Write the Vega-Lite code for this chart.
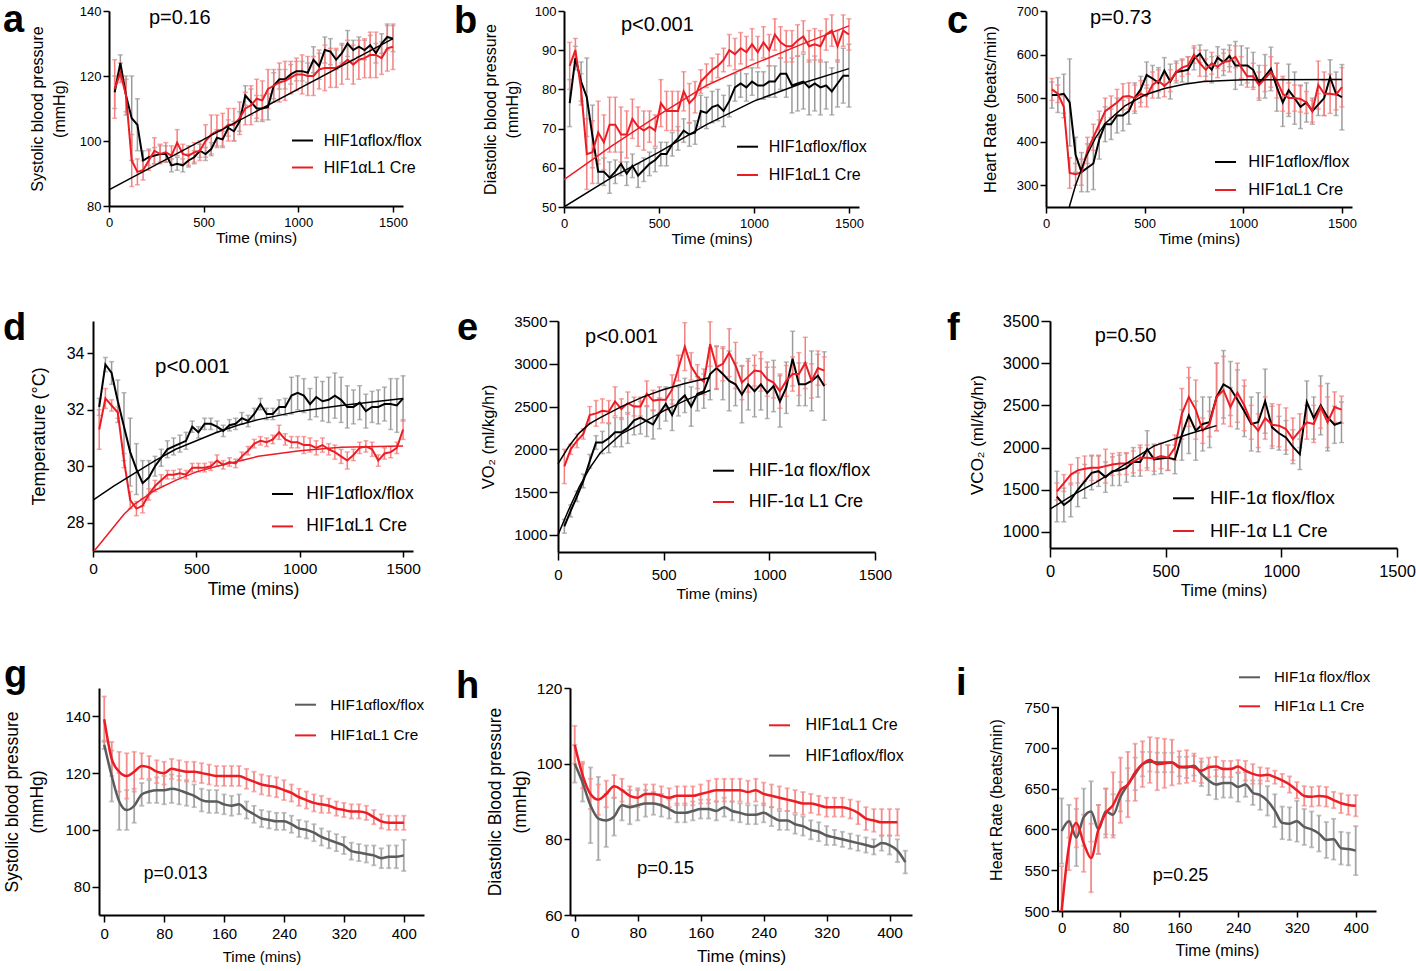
{
"$schema": "https://vega.github.io/schema/vega-lite/v6.json",
"padding": {"left": 0, "top": 2, "right": 2, "bottom": 2},
"background": "white",
"spacing": 62,
"resolve": {"scale": {"color": "independent"}, "legend": {"color": "independent"}},
"config": {
 "view": {"stroke": null},
 "font": "Liberation Sans",
 "axis": {"domainColor": "#000", "domainWidth": 2, "tickColor": "#000", "tickWidth": 1.5, "tickSize": 6, "labelColor": "#000", "titleColor": "#000", "labelFont": "Liberation Sans", "titleFont": "Liberation Sans", "titleFontWeight": "normal", "grid": false, "labelFlush": false, "labelOverlap": false, "titlePadding": 0, "format": "d"},
 "legend": {"labelFont": "Liberation Sans", "labelColor": "#000", "symbolType": "stroke", "symbolSize": 441, "symbolStrokeWidth": 2, "padding": 0, "orient": "none", "title": null},
 "text": {"font": "Liberation Sans", "color": "#000"}
},
"datasets": {
"a": [
{"g":"f","t":30,"m":115,"e":5},{"g":"f","t":60,"m":124,"e":2.5},{"g":"f","t":90,"m":114,"e":6},{"g":"f","t":120,"m":107,"e":13},{"g":"f","t":150,"m":105,"e":8},{"g":"f","t":180,"m":94,"e":3},{"g":"f","t":210,"m":95,"e":2.5},{"g":"f","t":240,"m":95.5,"e":2.5},{"g":"f","t":270,"m":96,"e":2.5},{"g":"f","t":300,"m":96,"e":2.5},{"g":"f","t":330,"m":92.5,"e":2},{"g":"f","t":360,"m":93,"e":2},{"g":"f","t":390,"m":92.5,"e":2},{"g":"f","t":420,"m":94,"e":2},{"g":"f","t":450,"m":95,"e":2},{"g":"f","t":480,"m":97,"e":2},{"g":"f","t":510,"m":96,"e":2},{"g":"f","t":540,"m":97.5,"e":2},{"g":"f","t":570,"m":101,"e":2.5},{"g":"f","t":600,"m":100.5,"e":2.5},{"g":"f","t":630,"m":104,"e":2.5},{"g":"f","t":660,"m":103,"e":3},{"g":"f","t":690,"m":106,"e":3},{"g":"f","t":720,"m":114,"e":3},{"g":"f","t":750,"m":112,"e":4},{"g":"f","t":780,"m":110,"e":4},{"g":"f","t":810,"m":110,"e":4},{"g":"f","t":840,"m":110.5,"e":4},{"g":"f","t":870,"m":117,"e":4},{"g":"f","t":900,"m":119,"e":3},{"g":"f","t":930,"m":119,"e":3},{"g":"f","t":960,"m":120.5,"e":3},{"g":"f","t":990,"m":121.5,"e":3},{"g":"f","t":1020,"m":121.5,"e":3},{"g":"f","t":1050,"m":121,"e":3},{"g":"f","t":1080,"m":125,"e":4},{"g":"f","t":1110,"m":123,"e":4},{"g":"f","t":1140,"m":128,"e":4},{"g":"f","t":1170,"m":127.5,"e":4},{"g":"f","t":1200,"m":125,"e":3},{"g":"f","t":1230,"m":127,"e":3},{"g":"f","t":1260,"m":130,"e":4},{"g":"f","t":1290,"m":128,"e":3},{"g":"f","t":1320,"m":129,"e":3},{"g":"f","t":1350,"m":128,"e":3},{"g":"f","t":1380,"m":129.5,"e":3},{"g":"f","t":1410,"m":127,"e":3},{"g":"f","t":1440,"m":130,"e":3},{"g":"f","t":1470,"m":132,"e":4},{"g":"f","t":1500,"m":131.5,"e":4},
{"g":"c","t":30,"m":116,"e":9},{"g":"c","t":60,"m":121,"e":3},{"g":"c","t":90,"m":114,"e":5},{"g":"c","t":120,"m":94,"e":8},{"g":"c","t":150,"m":90.5,"e":4},{"g":"c","t":180,"m":91,"e":3},{"g":"c","t":210,"m":94,"e":3},{"g":"c","t":240,"m":97,"e":4},{"g":"c","t":270,"m":96,"e":3},{"g":"c","t":300,"m":96.5,"e":3},{"g":"c","t":330,"m":95.5,"e":3},{"g":"c","t":360,"m":99.5,"e":4},{"g":"c","t":390,"m":96,"e":3},{"g":"c","t":420,"m":95.5,"e":3},{"g":"c","t":450,"m":96.5,"e":3},{"g":"c","t":480,"m":97,"e":3},{"g":"c","t":510,"m":100,"e":5},{"g":"c","t":540,"m":102,"e":6},{"g":"c","t":570,"m":103,"e":5},{"g":"c","t":600,"m":103.5,"e":5},{"g":"c","t":630,"m":105,"e":5},{"g":"c","t":660,"m":105,"e":5},{"g":"c","t":690,"m":107,"e":5},{"g":"c","t":720,"m":110,"e":5},{"g":"c","t":750,"m":111,"e":6},{"g":"c","t":780,"m":113,"e":6},{"g":"c","t":810,"m":112.5,"e":6},{"g":"c","t":840,"m":116,"e":6},{"g":"c","t":870,"m":117,"e":5},{"g":"c","t":900,"m":118,"e":6},{"g":"c","t":930,"m":118.5,"e":6},{"g":"c","t":960,"m":119.5,"e":5},{"g":"c","t":990,"m":120.5,"e":5},{"g":"c","t":1020,"m":120.5,"e":6},{"g":"c","t":1050,"m":120,"e":6},{"g":"c","t":1080,"m":120,"e":6},{"g":"c","t":1110,"m":122,"e":6},{"g":"c","t":1140,"m":122.5,"e":7},{"g":"c","t":1170,"m":122.5,"e":6},{"g":"c","t":1200,"m":122.5,"e":6},{"g":"c","t":1230,"m":123.5,"e":6},{"g":"c","t":1260,"m":125,"e":6},{"g":"c","t":1290,"m":123.5,"e":6},{"g":"c","t":1320,"m":125,"e":6},{"g":"c","t":1350,"m":125.5,"e":6},{"g":"c","t":1380,"m":126.5,"e":7},{"g":"c","t":1410,"m":126.5,"e":7},{"g":"c","t":1440,"m":125.5,"e":5},{"g":"c","t":1470,"m":128.5,"e":7},{"g":"c","t":1500,"m":129,"e":7}
],
"a_fit": [{"g":"f","t":0,"m":85},{"g":"f","t":1500,"m":131.5}],
"b": [
{"g":"f","t":30,"m":76.5,"e":6},{"g":"f","t":60,"m":88,"e":3},{"g":"f","t":90,"m":82,"e":5},{"g":"f","t":120,"m":78,"e":10},{"g":"f","t":150,"m":68,"e":8},{"g":"f","t":180,"m":59,"e":3},{"g":"f","t":210,"m":59,"e":3.5},{"g":"f","t":240,"m":57.5,"e":4},{"g":"f","t":270,"m":59,"e":3},{"g":"f","t":300,"m":61,"e":3},{"g":"f","t":330,"m":58.5,"e":3},{"g":"f","t":360,"m":60.5,"e":3},{"g":"f","t":390,"m":58,"e":3},{"g":"f","t":420,"m":59.5,"e":3},{"g":"f","t":450,"m":61,"e":3},{"g":"f","t":480,"m":62,"e":3},{"g":"f","t":510,"m":63.5,"e":3},{"g":"f","t":540,"m":63.5,"e":3},{"g":"f","t":570,"m":66,"e":3},{"g":"f","t":600,"m":67.5,"e":3},{"g":"f","t":630,"m":69.5,"e":3},{"g":"f","t":660,"m":68.5,"e":3},{"g":"f","t":690,"m":69,"e":3},{"g":"f","t":720,"m":74.5,"e":4},{"g":"f","t":750,"m":74,"e":4},{"g":"f","t":780,"m":75.5,"e":4},{"g":"f","t":810,"m":76,"e":4},{"g":"f","t":840,"m":74.5,"e":4},{"g":"f","t":870,"m":77,"e":4},{"g":"f","t":900,"m":80.5,"e":3.5},{"g":"f","t":930,"m":81.5,"e":3.5},{"g":"f","t":960,"m":80.5,"e":3.5},{"g":"f","t":990,"m":82,"e":3.5},{"g":"f","t":1020,"m":81,"e":3.5},{"g":"f","t":1050,"m":81,"e":3.5},{"g":"f","t":1080,"m":82,"e":4},{"g":"f","t":1110,"m":82,"e":4},{"g":"f","t":1140,"m":84,"e":4},{"g":"f","t":1170,"m":84,"e":6},{"g":"f","t":1200,"m":81,"e":7},{"g":"f","t":1230,"m":81.5,"e":7},{"g":"f","t":1260,"m":82,"e":7},{"g":"f","t":1290,"m":80.5,"e":7},{"g":"f","t":1320,"m":81.5,"e":7},{"g":"f","t":1350,"m":80.5,"e":7},{"g":"f","t":1380,"m":81,"e":6},{"g":"f","t":1410,"m":79.5,"e":6},{"g":"f","t":1440,"m":81.5,"e":6},{"g":"f","t":1470,"m":83.5,"e":7},{"g":"f","t":1500,"m":83.5,"e":8},
{"g":"c","t":30,"m":86,"e":6},{"g":"c","t":60,"m":90,"e":3},{"g":"c","t":90,"m":80,"e":4},{"g":"c","t":120,"m":63.5,"e":9},{"g":"c","t":150,"m":64,"e":8},{"g":"c","t":180,"m":69,"e":8},{"g":"c","t":210,"m":66.5,"e":7},{"g":"c","t":240,"m":71,"e":7},{"g":"c","t":270,"m":71,"e":7},{"g":"c","t":300,"m":68.5,"e":7},{"g":"c","t":330,"m":68.5,"e":6},{"g":"c","t":360,"m":72.5,"e":5},{"g":"c","t":390,"m":70.5,"e":5},{"g":"c","t":420,"m":69.5,"e":5},{"g":"c","t":450,"m":70.5,"e":4},{"g":"c","t":480,"m":69.5,"e":4},{"g":"c","t":510,"m":76.5,"e":6},{"g":"c","t":540,"m":74.5,"e":5},{"g":"c","t":570,"m":74.5,"e":5},{"g":"c","t":600,"m":74.5,"e":5},{"g":"c","t":630,"m":79.5,"e":5},{"g":"c","t":660,"m":76.5,"e":5},{"g":"c","t":690,"m":78,"e":4},{"g":"c","t":720,"m":82,"e":3},{"g":"c","t":750,"m":83.5,"e":3},{"g":"c","t":780,"m":85,"e":3},{"g":"c","t":810,"m":86,"e":3},{"g":"c","t":840,"m":87.5,"e":3},{"g":"c","t":870,"m":90,"e":4},{"g":"c","t":900,"m":89,"e":4},{"g":"c","t":930,"m":90.5,"e":4},{"g":"c","t":960,"m":89.5,"e":4},{"g":"c","t":990,"m":91.5,"e":4},{"g":"c","t":1020,"m":89.5,"e":4},{"g":"c","t":1050,"m":92,"e":4},{"g":"c","t":1080,"m":90,"e":4},{"g":"c","t":1110,"m":94,"e":4},{"g":"c","t":1140,"m":92,"e":4},{"g":"c","t":1170,"m":91,"e":4},{"g":"c","t":1200,"m":91,"e":4},{"g":"c","t":1230,"m":92.5,"e":4},{"g":"c","t":1260,"m":93.5,"e":4},{"g":"c","t":1290,"m":91,"e":4},{"g":"c","t":1320,"m":91.5,"e":4},{"g":"c","t":1350,"m":91,"e":4},{"g":"c","t":1380,"m":94,"e":4},{"g":"c","t":1410,"m":95,"e":4},{"g":"c","t":1440,"m":91,"e":4},{"g":"c","t":1470,"m":95,"e":4},{"g":"c","t":1500,"m":94,"e":4}
],
"b_fit": [{"g":"f","t":0,"m":50},{"g":"f","t":250,"m":57.5},{"g":"f","t":500,"m":64},{"g":"f","t":750,"m":71},{"g":"f","t":1000,"m":77},{"g":"f","t":1250,"m":81.5},{"g":"f","t":1500,"m":85.3},
{"g":"c","t":0,"m":57},{"g":"c","t":250,"m":65.5},{"g":"c","t":500,"m":73.5},{"g":"c","t":750,"m":81},{"g":"c","t":1000,"m":86.5},{"g":"c","t":1250,"m":91.5},{"g":"c","t":1500,"m":96.2}],
"c": [
{"g":"f","t":30,"m":507,"e":30},{"g":"f","t":60,"m":507,"e":40},{"g":"f","t":90,"m":510,"e":45},{"g":"f","t":120,"m":490,"e":100},{"g":"f","t":150,"m":370,"e":40},{"g":"f","t":180,"m":330,"e":45},{"g":"f","t":210,"m":340,"e":55},{"g":"f","t":240,"m":350,"e":60},{"g":"f","t":270,"m":405,"e":45},{"g":"f","t":300,"m":440,"e":40},{"g":"f","t":330,"m":440,"e":35},{"g":"f","t":360,"m":460,"e":40},{"g":"f","t":390,"m":460,"e":35},{"g":"f","t":420,"m":470,"e":30},{"g":"f","t":450,"m":500,"e":35},{"g":"f","t":480,"m":520,"e":30},{"g":"f","t":510,"m":553,"e":30},{"g":"f","t":540,"m":545,"e":30},{"g":"f","t":570,"m":535,"e":35},{"g":"f","t":600,"m":563,"e":30},{"g":"f","t":630,"m":538,"e":40},{"g":"f","t":660,"m":560,"e":25},{"g":"f","t":690,"m":562,"e":25},{"g":"f","t":720,"m":565,"e":30},{"g":"f","t":750,"m":590,"e":25},{"g":"f","t":780,"m":602,"e":20},{"g":"f","t":810,"m":580,"e":30},{"g":"f","t":840,"m":565,"e":30},{"g":"f","t":870,"m":593,"e":25},{"g":"f","t":900,"m":582,"e":30},{"g":"f","t":930,"m":597,"e":25},{"g":"f","t":960,"m":575,"e":55},{"g":"f","t":990,"m":575,"e":45},{"g":"f","t":1020,"m":575,"e":40},{"g":"f","t":1050,"m":565,"e":40},{"g":"f","t":1080,"m":535,"e":40},{"g":"f","t":1110,"m":550,"e":50},{"g":"f","t":1140,"m":567,"e":50},{"g":"f","t":1170,"m":525,"e":55},{"g":"f","t":1200,"m":490,"e":55},{"g":"f","t":1230,"m":518,"e":60},{"g":"f","t":1260,"m":500,"e":60},{"g":"f","t":1290,"m":480,"e":50},{"g":"f","t":1320,"m":490,"e":45},{"g":"f","t":1350,"m":470,"e":30},{"g":"f","t":1380,"m":485,"e":25},{"g":"f","t":1410,"m":500,"e":40},{"g":"f","t":1440,"m":548,"e":40},{"g":"f","t":1470,"m":510,"e":50},{"g":"f","t":1500,"m":502,"e":75},
{"g":"c","t":30,"m":520,"e":25},{"g":"c","t":60,"m":510,"e":20},{"g":"c","t":90,"m":480,"e":25},{"g":"c","t":120,"m":328,"e":35},{"g":"c","t":150,"m":325,"e":25},{"g":"c","t":180,"m":330,"e":30},{"g":"c","t":210,"m":380,"e":30},{"g":"c","t":240,"m":410,"e":30},{"g":"c","t":270,"m":440,"e":30},{"g":"c","t":300,"m":470,"e":30},{"g":"c","t":330,"m":480,"e":25},{"g":"c","t":360,"m":490,"e":30},{"g":"c","t":390,"m":503,"e":30},{"g":"c","t":420,"m":505,"e":30},{"g":"c","t":450,"m":500,"e":30},{"g":"c","t":480,"m":510,"e":30},{"g":"c","t":510,"m":505,"e":25},{"g":"c","t":540,"m":530,"e":30},{"g":"c","t":570,"m":540,"e":25},{"g":"c","t":600,"m":528,"e":25},{"g":"c","t":630,"m":540,"e":25},{"g":"c","t":660,"m":560,"e":20},{"g":"c","t":690,"m":570,"e":20},{"g":"c","t":720,"m":575,"e":20},{"g":"c","t":750,"m":600,"e":20},{"g":"c","t":780,"m":580,"e":30},{"g":"c","t":810,"m":565,"e":25},{"g":"c","t":840,"m":580,"e":25},{"g":"c","t":870,"m":572,"e":25},{"g":"c","t":900,"m":583,"e":20},{"g":"c","t":930,"m":585,"e":25},{"g":"c","t":960,"m":595,"e":25},{"g":"c","t":990,"m":570,"e":25},{"g":"c","t":1020,"m":550,"e":25},{"g":"c","t":1050,"m":550,"e":30},{"g":"c","t":1080,"m":530,"e":30},{"g":"c","t":1110,"m":545,"e":30},{"g":"c","t":1140,"m":560,"e":35},{"g":"c","t":1170,"m":540,"e":40},{"g":"c","t":1200,"m":510,"e":40},{"g":"c","t":1230,"m":500,"e":35},{"g":"c","t":1260,"m":500,"e":30},{"g":"c","t":1290,"m":498,"e":30},{"g":"c","t":1320,"m":490,"e":25},{"g":"c","t":1350,"m":470,"e":25},{"g":"c","t":1380,"m":530,"e":55},{"g":"c","t":1410,"m":510,"e":50},{"g":"c","t":1440,"m":510,"e":45},{"g":"c","t":1470,"m":508,"e":35},{"g":"c","t":1500,"m":525,"e":45}
],
"c_fit": [{"g":"f","t":118,"m":250},{"g":"f","t":150,"m":300},{"g":"f","t":200,"m":362},{"g":"f","t":250,"m":408},{"g":"f","t":300,"m":442},{"g":"f","t":400,"m":482},{"g":"f","t":500,"m":507},{"g":"f","t":600,"m":522},{"g":"f","t":700,"m":532},{"g":"f","t":800,"m":538},{"g":"f","t":1000,"m":542},{"g":"f","t":1500,"m":543}],
"d": [
{"g":"f","t":30,"m":32.1,"e":0.3},{"g":"f","t":60,"m":33.6,"e":0.25},{"g":"f","t":90,"m":33.3,"e":0.4},{"g":"f","t":120,"m":32.3,"e":0.75},{"g":"f","t":150,"m":31.4,"e":1.2},{"g":"f","t":180,"m":30.5,"e":1.2},{"g":"f","t":210,"m":29.9,"e":0.9},{"g":"f","t":240,"m":29.4,"e":0.8},{"g":"f","t":270,"m":29.6,"e":0.6},{"g":"f","t":300,"m":30.0,"e":0.35},{"g":"f","t":330,"m":30.3,"e":0.3},{"g":"f","t":360,"m":30.6,"e":0.3},{"g":"f","t":390,"m":30.7,"e":0.3},{"g":"f","t":420,"m":30.8,"e":0.3},{"g":"f","t":450,"m":30.9,"e":0.3},{"g":"f","t":480,"m":31.4,"e":0.2},{"g":"f","t":510,"m":31.2,"e":0.2},{"g":"f","t":540,"m":31.5,"e":0.2},{"g":"f","t":570,"m":31.5,"e":0.2},{"g":"f","t":600,"m":31.4,"e":0.2},{"g":"f","t":630,"m":31.25,"e":0.2},{"g":"f","t":660,"m":31.45,"e":0.2},{"g":"f","t":690,"m":31.5,"e":0.2},{"g":"f","t":720,"m":31.7,"e":0.2},{"g":"f","t":750,"m":31.6,"e":0.2},{"g":"f","t":780,"m":31.85,"e":0.2},{"g":"f","t":810,"m":32.2,"e":0.2},{"g":"f","t":840,"m":31.85,"e":0.2},{"g":"f","t":870,"m":31.85,"e":0.2},{"g":"f","t":900,"m":32.1,"e":0.25},{"g":"f","t":930,"m":32.1,"e":0.3},{"g":"f","t":960,"m":32.5,"e":0.65},{"g":"f","t":990,"m":32.6,"e":0.6},{"g":"f","t":1020,"m":32.5,"e":0.6},{"g":"f","t":1050,"m":32.2,"e":0.55},{"g":"f","t":1080,"m":32.45,"e":0.7},{"g":"f","t":1110,"m":32.3,"e":0.7},{"g":"f","t":1140,"m":32.35,"e":0.8},{"g":"f","t":1170,"m":32.5,"e":0.8},{"g":"f","t":1200,"m":32.35,"e":0.8},{"g":"f","t":1230,"m":32.1,"e":0.75},{"g":"f","t":1260,"m":32.1,"e":0.6},{"g":"f","t":1290,"m":32.25,"e":0.6},{"g":"f","t":1320,"m":31.95,"e":0.6},{"g":"f","t":1350,"m":32.1,"e":0.55},{"g":"f","t":1380,"m":32.1,"e":0.6},{"g":"f","t":1410,"m":32.2,"e":0.6},{"g":"f","t":1440,"m":32.2,"e":0.9},{"g":"f","t":1470,"m":32.15,"e":0.95},{"g":"f","t":1500,"m":32.4,"e":0.8},
{"g":"c","t":30,"m":31.3,"e":0.7},{"g":"c","t":60,"m":32.4,"e":0.35},{"g":"c","t":90,"m":32.15,"e":0.2},{"g":"c","t":120,"m":31.9,"e":0.2},{"g":"c","t":150,"m":30.2,"e":0.25},{"g":"c","t":180,"m":28.8,"e":0.3},{"g":"c","t":210,"m":28.5,"e":0.25},{"g":"c","t":240,"m":28.6,"e":0.25},{"g":"c","t":270,"m":29.0,"e":0.2},{"g":"c","t":300,"m":29.3,"e":0.2},{"g":"c","t":330,"m":29.5,"e":0.2},{"g":"c","t":360,"m":29.7,"e":0.15},{"g":"c","t":390,"m":29.7,"e":0.15},{"g":"c","t":420,"m":29.75,"e":0.15},{"g":"c","t":450,"m":29.7,"e":0.15},{"g":"c","t":480,"m":29.95,"e":0.15},{"g":"c","t":510,"m":29.95,"e":0.15},{"g":"c","t":540,"m":29.95,"e":0.15},{"g":"c","t":570,"m":30.0,"e":0.15},{"g":"c","t":600,"m":30.2,"e":0.2},{"g":"c","t":630,"m":30.05,"e":0.15},{"g":"c","t":660,"m":30.15,"e":0.15},{"g":"c","t":690,"m":30.1,"e":0.15},{"g":"c","t":720,"m":30.35,"e":0.15},{"g":"c","t":750,"m":30.55,"e":0.15},{"g":"c","t":780,"m":30.8,"e":0.15},{"g":"c","t":810,"m":30.9,"e":0.15},{"g":"c","t":840,"m":30.85,"e":0.15},{"g":"c","t":870,"m":30.95,"e":0.15},{"g":"c","t":900,"m":31.2,"e":0.25},{"g":"c","t":930,"m":30.95,"e":0.2},{"g":"c","t":960,"m":30.85,"e":0.2},{"g":"c","t":990,"m":30.85,"e":0.2},{"g":"c","t":1020,"m":30.75,"e":0.3},{"g":"c","t":1050,"m":30.75,"e":0.25},{"g":"c","t":1080,"m":30.65,"e":0.25},{"g":"c","t":1110,"m":30.75,"e":0.25},{"g":"c","t":1140,"m":30.6,"e":0.2},{"g":"c","t":1170,"m":30.5,"e":0.25},{"g":"c","t":1200,"m":30.35,"e":0.25},{"g":"c","t":1230,"m":30.2,"e":0.3},{"g":"c","t":1260,"m":30.4,"e":0.2},{"g":"c","t":1290,"m":30.65,"e":0.2},{"g":"c","t":1320,"m":30.7,"e":0.2},{"g":"c","t":1350,"m":30.6,"e":0.25},{"g":"c","t":1380,"m":30.2,"e":0.2},{"g":"c","t":1410,"m":30.45,"e":0.2},{"g":"c","t":1440,"m":30.5,"e":0.2},{"g":"c","t":1470,"m":30.65,"e":0.2},{"g":"c","t":1500,"m":31.3,"e":0.35}
],
"d_fit": [{"g":"f","t":0,"m":28.8},{"g":"f","t":100,"m":29.3},{"g":"f","t":200,"m":29.75},{"g":"f","t":300,"m":30.2},{"g":"f","t":400,"m":30.6},{"g":"f","t":500,"m":30.9},{"g":"f","t":600,"m":31.2},{"g":"f","t":700,"m":31.45},{"g":"f","t":800,"m":31.65},{"g":"f","t":1000,"m":31.95},{"g":"f","t":1200,"m":32.15},{"g":"f","t":1500,"m":32.4},
{"g":"c","t":0,"m":26.95},{"g":"c","t":50,"m":27.4},{"g":"c","t":100,"m":27.85},{"g":"c","t":150,"m":28.3},{"g":"c","t":200,"m":28.65},{"g":"c","t":300,"m":29.15},{"g":"c","t":400,"m":29.5},{"g":"c","t":500,"m":29.8},{"g":"c","t":600,"m":30.0},{"g":"c","t":800,"m":30.35},{"g":"c","t":1000,"m":30.55},{"g":"c","t":1200,"m":30.67},{"g":"c","t":1500,"m":30.72}],
"e": [
{"g":"f","t":30,"m":1100,"e":80},{"g":"f","t":60,"m":1280,"e":70},{"g":"f","t":90,"m":1450,"e":60},{"g":"f","t":120,"m":1630,"e":80},{"g":"f","t":150,"m":1860,"e":80},{"g":"f","t":180,"m":2080,"e":80},{"g":"f","t":210,"m":2080,"e":130},{"g":"f","t":240,"m":2130,"e":170},{"g":"f","t":270,"m":2200,"e":170},{"g":"f","t":300,"m":2200,"e":170},{"g":"f","t":330,"m":2250,"e":180},{"g":"f","t":360,"m":2340,"e":170},{"g":"f","t":390,"m":2370,"e":190},{"g":"f","t":420,"m":2330,"e":180},{"g":"f","t":450,"m":2290,"e":170},{"g":"f","t":480,"m":2420,"e":180},{"g":"f","t":510,"m":2530,"e":200},{"g":"f","t":540,"m":2400,"e":180},{"g":"f","t":570,"m":2560,"e":170},{"g":"f","t":600,"m":2630,"e":200},{"g":"f","t":630,"m":2500,"e":230},{"g":"f","t":660,"m":2650,"e":200},{"g":"f","t":690,"m":2680,"e":200},{"g":"f","t":720,"m":2880,"e":300},{"g":"f","t":750,"m":2950,"e":250},{"g":"f","t":780,"m":2880,"e":300},{"g":"f","t":810,"m":2800,"e":350},{"g":"f","t":840,"m":2760,"e":250},{"g":"f","t":870,"m":2640,"e":330},{"g":"f","t":900,"m":2760,"e":300},{"g":"f","t":930,"m":2680,"e":300},{"g":"f","t":960,"m":2760,"e":300},{"g":"f","t":990,"m":2660,"e":300},{"g":"f","t":1020,"m":2740,"e":300},{"g":"f","t":1050,"m":2560,"e":300},{"g":"f","t":1080,"m":2720,"e":300},{"g":"f","t":1110,"m":3060,"e":320},{"g":"f","t":1140,"m":2760,"e":250},{"g":"f","t":1170,"m":2760,"e":250},{"g":"f","t":1200,"m":2800,"e":350},{"g":"f","t":1230,"m":2860,"e":250},{"g":"f","t":1260,"m":2740,"e":400},
{"g":"c","t":30,"m":1800,"e":200},{"g":"c","t":60,"m":2000,"e":60},{"g":"c","t":90,"m":2100,"e":80},{"g":"c","t":120,"m":2180,"e":60},{"g":"c","t":150,"m":2400,"e":100},{"g":"c","t":180,"m":2420,"e":150},{"g":"c","t":210,"m":2450,"e":140},{"g":"c","t":240,"m":2440,"e":130},{"g":"c","t":270,"m":2560,"e":170},{"g":"c","t":300,"m":2470,"e":120},{"g":"c","t":330,"m":2540,"e":130},{"g":"c","t":360,"m":2500,"e":110},{"g":"c","t":390,"m":2500,"e":110},{"g":"c","t":420,"m":2650,"e":150},{"g":"c","t":450,"m":2570,"e":120},{"g":"c","t":480,"m":2580,"e":150},{"g":"c","t":510,"m":2580,"e":120},{"g":"c","t":540,"m":2700,"e":170},{"g":"c","t":570,"m":2950,"e":150},{"g":"c","t":600,"m":3200,"e":280},{"g":"c","t":630,"m":2970,"e":160},{"g":"c","t":660,"m":2850,"e":140},{"g":"c","t":690,"m":2790,"e":150},{"g":"c","t":720,"m":3230,"e":260},{"g":"c","t":750,"m":2960,"e":250},{"g":"c","t":780,"m":3000,"e":200},{"g":"c","t":810,"m":3130,"e":280},{"g":"c","t":840,"m":2980,"e":270},{"g":"c","t":870,"m":2780,"e":200},{"g":"c","t":900,"m":2850,"e":180},{"g":"c","t":930,"m":2920,"e":180},{"g":"c","t":960,"m":2910,"e":230},{"g":"c","t":990,"m":2820,"e":200},{"g":"c","t":1020,"m":2780,"e":180},{"g":"c","t":1050,"m":2680,"e":200},{"g":"c","t":1080,"m":2800,"e":180},{"g":"c","t":1110,"m":2880,"e":200},{"g":"c","t":1140,"m":2880,"e":250},{"g":"c","t":1170,"m":3010,"e":300},{"g":"c","t":1200,"m":2800,"e":200},{"g":"c","t":1230,"m":2950,"e":200},{"g":"c","t":1260,"m":2920,"e":160}
],
"e_fit": [{"g":"f","t":0,"m":1000},{"g":"f","t":50,"m":1290},{"g":"f","t":100,"m":1560},{"g":"f","t":150,"m":1780},{"g":"f","t":200,"m":1960},{"g":"f","t":300,"m":2180},{"g":"f","t":400,"m":2310},{"g":"f","t":500,"m":2450},{"g":"f","t":600,"m":2570},{"g":"f","t":720,"m":2690},
{"g":"c","t":0,"m":1830},{"g":"c","t":50,"m":2030},{"g":"c","t":100,"m":2190},{"g":"c","t":150,"m":2300},{"g":"c","t":200,"m":2370},{"g":"c","t":300,"m":2500},{"g":"c","t":400,"m":2610},{"g":"c","t":500,"m":2700},{"g":"c","t":600,"m":2770},{"g":"c","t":720,"m":2840}],
"f": [
{"g":"f","t":30,"m":1420,"e":300},{"g":"f","t":60,"m":1320,"e":200},{"g":"f","t":90,"m":1380,"e":200},{"g":"f","t":120,"m":1500,"e":200},{"g":"f","t":150,"m":1600,"e":200},{"g":"f","t":180,"m":1700,"e":200},{"g":"f","t":210,"m":1720,"e":180},{"g":"f","t":240,"m":1650,"e":180},{"g":"f","t":270,"m":1720,"e":170},{"g":"f","t":300,"m":1730,"e":180},{"g":"f","t":330,"m":1760,"e":170},{"g":"f","t":360,"m":1830,"e":170},{"g":"f","t":390,"m":1830,"e":170},{"g":"f","t":420,"m":1980,"e":220},{"g":"f","t":450,"m":1860,"e":180},{"g":"f","t":480,"m":1870,"e":180},{"g":"f","t":510,"m":1880,"e":150},{"g":"f","t":540,"m":1860,"e":170},{"g":"f","t":570,"m":2150,"e":300},{"g":"f","t":600,"m":2380,"e":450},{"g":"f","t":630,"m":2200,"e":350},{"g":"f","t":660,"m":2280,"e":320},{"g":"f","t":690,"m":2300,"e":300},{"g":"f","t":720,"m":2600,"e":400},{"g":"f","t":750,"m":2750,"e":400},{"g":"f","t":780,"m":2700,"e":320},{"g":"f","t":810,"m":2570,"e":350},{"g":"f","t":840,"m":2430,"e":300},{"g":"f","t":870,"m":2280,"e":320},{"g":"f","t":900,"m":2300,"e":350},{"g":"f","t":930,"m":2550,"e":380},{"g":"f","t":960,"m":2240,"e":250},{"g":"f","t":990,"m":2170,"e":200},{"g":"f","t":1020,"m":2120,"e":200},{"g":"f","t":1050,"m":2010,"e":200},{"g":"f","t":1080,"m":1920,"e":180},{"g":"f","t":1110,"m":2540,"e":250},{"g":"f","t":1140,"m":2350,"e":250},{"g":"f","t":1170,"m":2500,"e":350},{"g":"f","t":1200,"m":2360,"e":400},{"g":"f","t":1230,"m":2270,"e":220},{"g":"f","t":1260,"m":2300,"e":240},
{"g":"c","t":30,"m":1480,"e":100},{"g":"c","t":60,"m":1580,"e":100},{"g":"c","t":90,"m":1680,"e":120},{"g":"c","t":120,"m":1730,"e":150},{"g":"c","t":150,"m":1750,"e":150},{"g":"c","t":180,"m":1760,"e":150},{"g":"c","t":210,"m":1760,"e":150},{"g":"c","t":240,"m":1780,"e":200},{"g":"c","t":270,"m":1800,"e":130},{"g":"c","t":300,"m":1810,"e":130},{"g":"c","t":330,"m":1810,"e":130},{"g":"c","t":360,"m":1830,"e":130},{"g":"c","t":390,"m":1880,"e":150},{"g":"c","t":420,"m":1880,"e":150},{"g":"c","t":450,"m":1870,"e":150},{"g":"c","t":480,"m":1900,"e":150},{"g":"c","t":510,"m":1880,"e":150},{"g":"c","t":540,"m":2000,"e":150},{"g":"c","t":570,"m":2400,"e":300},{"g":"c","t":600,"m":2600,"e":350},{"g":"c","t":630,"m":2450,"e":350},{"g":"c","t":660,"m":2200,"e":150},{"g":"c","t":690,"m":2280,"e":150},{"g":"c","t":720,"m":2600,"e":400},{"g":"c","t":750,"m":2680,"e":400},{"g":"c","t":780,"m":2480,"e":230},{"g":"c","t":810,"m":2650,"e":350},{"g":"c","t":840,"m":2500,"e":300},{"g":"c","t":870,"m":2300,"e":200},{"g":"c","t":900,"m":2200,"e":200},{"g":"c","t":930,"m":2350,"e":250},{"g":"c","t":960,"m":2270,"e":250},{"g":"c","t":990,"m":2260,"e":250},{"g":"c","t":1020,"m":2220,"e":250},{"g":"c","t":1050,"m":2100,"e":250},{"g":"c","t":1080,"m":2200,"e":200},{"g":"c","t":1110,"m":2300,"e":200},{"g":"c","t":1140,"m":2280,"e":220},{"g":"c","t":1170,"m":2480,"e":250},{"g":"c","t":1200,"m":2300,"e":300},{"g":"c","t":1230,"m":2480,"e":180},{"g":"c","t":1260,"m":2450,"e":160}
],
"f_fit": [{"g":"f","t":0,"m":1270},{"g":"f","t":100,"m":1440},{"g":"f","t":200,"m":1590},{"g":"f","t":300,"m":1760},{"g":"f","t":450,"m":2020},{"g":"f","t":600,"m":2160},{"g":"f","t":720,"m":2260}],
"g": [
{"g":"f","t":0,"m":130,"e":1.5},{"g":"f","t":10,"m":119,"e":9},{"g":"f","t":20,"m":110,"e":10},{"g":"f","t":30,"m":107,"e":7},{"g":"f","t":40,"m":108.5,"e":6},{"g":"f","t":50,"m":112.5,"e":4},{"g":"f","t":60,"m":113.5,"e":4},{"g":"f","t":70,"m":114,"e":4.5},{"g":"f","t":80,"m":114,"e":5},{"g":"f","t":90,"m":114.5,"e":5},{"g":"f","t":100,"m":114,"e":5},{"g":"f","t":110,"m":113,"e":4.5},{"g":"f","t":120,"m":112,"e":4},{"g":"f","t":130,"m":110.5,"e":4},{"g":"f","t":140,"m":110,"e":4},{"g":"f","t":150,"m":110,"e":4},{"g":"f","t":160,"m":109,"e":3.5},{"g":"f","t":170,"m":108.5,"e":3.5},{"g":"f","t":180,"m":109,"e":3.5},{"g":"f","t":190,"m":107,"e":3},{"g":"f","t":200,"m":105.5,"e":3},{"g":"f","t":210,"m":104,"e":3},{"g":"f","t":220,"m":103.5,"e":3},{"g":"f","t":230,"m":103,"e":3},{"g":"f","t":240,"m":103,"e":3},{"g":"f","t":250,"m":102,"e":3},{"g":"f","t":260,"m":100.5,"e":3},{"g":"f","t":270,"m":100,"e":3},{"g":"f","t":280,"m":99,"e":3},{"g":"f","t":290,"m":97.5,"e":3},{"g":"f","t":300,"m":96.5,"e":3},{"g":"f","t":310,"m":95.5,"e":3},{"g":"f","t":320,"m":94.5,"e":3},{"g":"f","t":330,"m":92.5,"e":3},{"g":"f","t":340,"m":92,"e":3},{"g":"f","t":350,"m":91.5,"e":3},{"g":"f","t":360,"m":91,"e":3.5},{"g":"f","t":370,"m":90,"e":3.5},{"g":"f","t":380,"m":90.5,"e":4},{"g":"f","t":390,"m":90.5,"e":4},{"g":"f","t":400,"m":91,"e":5.5},
{"g":"c","t":0,"m":139,"e":8},{"g":"c","t":10,"m":125,"e":6},{"g":"c","t":20,"m":120.5,"e":7},{"g":"c","t":30,"m":119,"e":8},{"g":"c","t":40,"m":120.5,"e":7},{"g":"c","t":50,"m":122.5,"e":4.5},{"g":"c","t":60,"m":122,"e":4},{"g":"c","t":70,"m":120.5,"e":4},{"g":"c","t":80,"m":120,"e":4},{"g":"c","t":90,"m":121.5,"e":3.5},{"g":"c","t":100,"m":121,"e":3.5},{"g":"c","t":110,"m":120.5,"e":3.5},{"g":"c","t":120,"m":120.5,"e":3.5},{"g":"c","t":130,"m":120,"e":3.5},{"g":"c","t":140,"m":119.5,"e":3.5},{"g":"c","t":150,"m":119,"e":3.5},{"g":"c","t":160,"m":119,"e":3.5},{"g":"c","t":170,"m":119,"e":3.5},{"g":"c","t":180,"m":119,"e":3.5},{"g":"c","t":190,"m":118,"e":3.5},{"g":"c","t":200,"m":117,"e":3.5},{"g":"c","t":210,"m":116,"e":3.5},{"g":"c","t":220,"m":115.5,"e":3.5},{"g":"c","t":230,"m":115,"e":3.5},{"g":"c","t":240,"m":114,"e":3.5},{"g":"c","t":250,"m":113,"e":3},{"g":"c","t":260,"m":111.5,"e":3},{"g":"c","t":270,"m":110.5,"e":3},{"g":"c","t":280,"m":109.5,"e":3},{"g":"c","t":290,"m":109,"e":3},{"g":"c","t":300,"m":108.5,"e":2.5},{"g":"c","t":310,"m":107.5,"e":2.5},{"g":"c","t":320,"m":107,"e":2.5},{"g":"c","t":330,"m":106.5,"e":2.5},{"g":"c","t":340,"m":106.5,"e":2.5},{"g":"c","t":350,"m":106,"e":2.5},{"g":"c","t":360,"m":104.5,"e":2.5},{"g":"c","t":370,"m":103,"e":2.5},{"g":"c","t":380,"m":102.5,"e":2.5},{"g":"c","t":390,"m":102.5,"e":2.5},{"g":"c","t":400,"m":102.5,"e":2.5}
],
"h": [
{"g":"c","t":0,"m":105,"e":5},{"g":"c","t":10,"m":97,"e":3.5},{"g":"c","t":20,"m":92,"e":4},{"g":"c","t":30,"m":90.5,"e":4},{"g":"c","t":40,"m":92,"e":3.5},{"g":"c","t":50,"m":94,"e":3},{"g":"c","t":60,"m":93,"e":3},{"g":"c","t":70,"m":91.5,"e":2.5},{"g":"c","t":80,"m":91,"e":2.5},{"g":"c","t":90,"m":92,"e":2.5},{"g":"c","t":100,"m":92,"e":2.5},{"g":"c","t":110,"m":91.5,"e":2.5},{"g":"c","t":120,"m":91,"e":2.5},{"g":"c","t":130,"m":91.5,"e":2.5},{"g":"c","t":140,"m":91.5,"e":2.5},{"g":"c","t":150,"m":91.5,"e":2.5},{"g":"c","t":160,"m":92,"e":2.5},{"g":"c","t":170,"m":92.5,"e":3},{"g":"c","t":180,"m":93,"e":3},{"g":"c","t":190,"m":93,"e":3},{"g":"c","t":200,"m":93,"e":3},{"g":"c","t":210,"m":93,"e":3},{"g":"c","t":220,"m":92.5,"e":3},{"g":"c","t":230,"m":93,"e":3},{"g":"c","t":240,"m":92,"e":3},{"g":"c","t":250,"m":91.5,"e":3},{"g":"c","t":260,"m":91,"e":3},{"g":"c","t":270,"m":90.5,"e":3},{"g":"c","t":280,"m":90,"e":3},{"g":"c","t":290,"m":89.5,"e":3},{"g":"c","t":300,"m":89.5,"e":2.5},{"g":"c","t":310,"m":89,"e":2.5},{"g":"c","t":320,"m":88.5,"e":2.5},{"g":"c","t":330,"m":88.5,"e":2.5},{"g":"c","t":340,"m":88.5,"e":2.5},{"g":"c","t":350,"m":88,"e":2.5},{"g":"c","t":360,"m":87,"e":3},{"g":"c","t":370,"m":85.5,"e":3},{"g":"c","t":380,"m":85,"e":3},{"g":"c","t":390,"m":84.5,"e":3.5},{"g":"c","t":400,"m":84.5,"e":3.5},{"g":"c","t":410,"m":84.5,"e":3.5},
{"g":"f","t":0,"m":100,"e":5},{"g":"f","t":10,"m":95,"e":5},{"g":"f","t":20,"m":89,"e":10},{"g":"f","t":30,"m":85.5,"e":11},{"g":"f","t":40,"m":85,"e":7},{"g":"f","t":50,"m":86,"e":5},{"g":"f","t":60,"m":89,"e":4},{"g":"f","t":70,"m":88.5,"e":4.5},{"g":"f","t":80,"m":89,"e":4},{"g":"f","t":90,"m":89.5,"e":3.5},{"g":"f","t":100,"m":89.5,"e":3},{"g":"f","t":110,"m":89,"e":3},{"g":"f","t":120,"m":88,"e":2.5},{"g":"f","t":130,"m":87,"e":2.5},{"g":"f","t":140,"m":87,"e":2.5},{"g":"f","t":150,"m":87.5,"e":2.5},{"g":"f","t":160,"m":88,"e":2.5},{"g":"f","t":170,"m":88,"e":2.5},{"g":"f","t":180,"m":87.5,"e":2.5},{"g":"f","t":190,"m":88.5,"e":2.5},{"g":"f","t":200,"m":87.5,"e":2.5},{"g":"f","t":210,"m":87,"e":2.5},{"g":"f","t":220,"m":86.5,"e":2.5},{"g":"f","t":230,"m":86.5,"e":2.5},{"g":"f","t":240,"m":87,"e":2.5},{"g":"f","t":250,"m":86,"e":2.5},{"g":"f","t":260,"m":85,"e":2.5},{"g":"f","t":270,"m":85,"e":2.5},{"g":"f","t":280,"m":84,"e":2.5},{"g":"f","t":290,"m":83.5,"e":2.5},{"g":"f","t":300,"m":82.5,"e":2.5},{"g":"f","t":310,"m":82,"e":2.5},{"g":"f","t":320,"m":81,"e":2.5},{"g":"f","t":330,"m":80.5,"e":2},{"g":"f","t":340,"m":80,"e":2},{"g":"f","t":350,"m":79.5,"e":2},{"g":"f","t":360,"m":79,"e":2},{"g":"f","t":370,"m":78.5,"e":2},{"g":"f","t":380,"m":78,"e":2},{"g":"f","t":390,"m":79,"e":2},{"g":"f","t":400,"m":78.5,"e":2.5},{"g":"f","t":410,"m":77,"e":3},{"g":"f","t":420,"m":74,"e":3}
],
"i": [
{"g":"f","t":0,"m":598,"e":40},{"g":"f","t":10,"m":610,"e":20},{"g":"f","t":20,"m":590,"e":35},{"g":"f","t":30,"m":615,"e":35},{"g":"f","t":40,"m":622,"e":37},{"g":"f","t":50,"m":600,"e":30},{"g":"f","t":60,"m":622,"e":28},{"g":"f","t":70,"m":618,"e":25},{"g":"f","t":80,"m":640,"e":18},{"g":"f","t":90,"m":655,"e":20},{"g":"f","t":100,"m":668,"e":20},{"g":"f","t":110,"m":680,"e":15},{"g":"f","t":120,"m":683,"e":12},{"g":"f","t":130,"m":682,"e":12},{"g":"f","t":140,"m":682,"e":12},{"g":"f","t":150,"m":682,"e":12},{"g":"f","t":160,"m":677,"e":12},{"g":"f","t":170,"m":676,"e":13},{"g":"f","t":180,"m":678,"e":12},{"g":"f","t":190,"m":668,"e":15},{"g":"f","t":200,"m":660,"e":18},{"g":"f","t":210,"m":655,"e":18},{"g":"f","t":220,"m":657,"e":18},{"g":"f","t":230,"m":657,"e":18},{"g":"f","t":240,"m":652,"e":18},{"g":"f","t":250,"m":655,"e":15},{"g":"f","t":260,"m":645,"e":15},{"g":"f","t":270,"m":642,"e":18},{"g":"f","t":280,"m":635,"e":18},{"g":"f","t":290,"m":623,"e":20},{"g":"f","t":300,"m":608,"e":20},{"g":"f","t":310,"m":607,"e":20},{"g":"f","t":320,"m":610,"e":25},{"g":"f","t":330,"m":603,"e":22},{"g":"f","t":340,"m":600,"e":22},{"g":"f","t":350,"m":595,"e":22},{"g":"f","t":360,"m":587,"e":22},{"g":"f","t":370,"m":588,"e":25},{"g":"f","t":380,"m":577,"e":20},{"g":"f","t":390,"m":576,"e":20},{"g":"f","t":400,"m":574,"e":30},
{"g":"c","t":0,"m":500,"e":55},{"g":"c","t":10,"m":580,"e":30},{"g":"c","t":20,"m":608,"e":30},{"g":"c","t":30,"m":583,"e":35},{"g":"c","t":40,"m":565,"e":42},{"g":"c","t":50,"m":600,"e":30},{"g":"c","t":60,"m":620,"e":30},{"g":"c","t":70,"m":630,"e":40},{"g":"c","t":80,"m":648,"e":40},{"g":"c","t":90,"m":655,"e":40},{"g":"c","t":100,"m":670,"e":35},{"g":"c","t":110,"m":680,"e":28},{"g":"c","t":120,"m":685,"e":28},{"g":"c","t":130,"m":680,"e":32},{"g":"c","t":140,"m":681,"e":30},{"g":"c","t":150,"m":682,"e":28},{"g":"c","t":160,"m":676,"e":20},{"g":"c","t":170,"m":677,"e":20},{"g":"c","t":180,"m":676,"e":17},{"g":"c","t":190,"m":672,"e":15},{"g":"c","t":200,"m":676,"e":12},{"g":"c","t":210,"m":677,"e":12},{"g":"c","t":220,"m":674,"e":10},{"g":"c","t":230,"m":674,"e":10},{"g":"c","t":240,"m":677,"e":8},{"g":"c","t":250,"m":672,"e":12},{"g":"c","t":260,"m":668,"e":12},{"g":"c","t":270,"m":666,"e":10},{"g":"c","t":280,"m":667,"e":8},{"g":"c","t":290,"m":664,"e":8},{"g":"c","t":300,"m":660,"e":8},{"g":"c","t":310,"m":655,"e":10},{"g":"c","t":320,"m":648,"e":10},{"g":"c","t":330,"m":641,"e":12},{"g":"c","t":340,"m":640,"e":12},{"g":"c","t":350,"m":641,"e":12},{"g":"c","t":360,"m":640,"e":12},{"g":"c","t":370,"m":636,"e":10},{"g":"c","t":380,"m":632,"e":12},{"g":"c","t":390,"m":630,"e":12},{"g":"c","t":400,"m":629,"e":13}
]
},
"vconcat": [
{"hconcat": [
 {"width": 2, "height": 1, "data": {"values": []}, "mark": {"type": "point", "opacity": 0}},
 {"hconcat": [
  {"width": 294, "height": 195, "data": {"name": "a"},
   "encoding": {
    "x": {"field": "t", "type": "quantitative", "scale": {"domain": [0, 1553], "nice": false, "zero": false}, "axis": {"values": [0, 500, 1000, 1500], "title": "Time (mins)", "labelFontSize": 13, "labelPadding": 4, "titleFontSize": 15.5, "minExtent": 24, "maxExtent": 24}},
    "y": {"field": "m", "type": "quantitative", "scale": {"domain": [80, 140], "nice": false, "zero": false}, "axis": {"values": [80, 100, 120, 140], "title": ["Systolic  blood pressure", "(mmHg)"], "labelFontSize": 13, "labelPadding": 2, "titleFontSize": 16, "titleLineHeight": 22, "minExtent": 42, "maxExtent": 42}}
   },
   "layer": [
    {"transform": [{"filter": "datum.g=='f'"}], "mark": {"type": "errorbar", "ticks": {"size": 5}, "color": "#9a9a9a", "thickness": 1.5}, "encoding": {"yError": {"field": "e"}}},
    {"transform": [{"filter": "datum.g=='c'"}], "mark": {"type": "errorbar", "ticks": {"size": 5}, "color": "#f47f7f", "thickness": 1.5}, "encoding": {"yError": {"field": "e"}}},
    {"mark": {"type": "line", "strokeWidth": 2}, "encoding": {"color": {"field": "g", "type": "nominal", "scale": {"domain": ["f", "c"], "range": ["#000000", "#ec1c24"]}, "legend": {"legendX": 182, "legendY": 118, "labelFontSize": 16, "labelOffset": 9.7, "rowPadding": 7, "labelExpr": "datum.value=='f' ? 'HIF1αflox/flox' : 'HIF1αL1 Cre'"}}}},
    {"data": {"name": "a_fit"}, "mark": {"type": "line", "strokeWidth": 1.5, "clip": true}, "encoding": {"color": {"field": "g", "type": "nominal"}}},
    {"transform": [{"filter": "datum.g=='f' && datum.t==30"}], "mark": {"type": "text", "text": "p=0.16", "fontSize": 20, "align": "left", "baseline": "middle"}, "encoding": {"x": {"datum": 211}, "y": {"datum": 138}}},
    {"transform": [{"filter": "datum.g=='f' && datum.t==30"}], "mark": {"type": "text", "text": "a", "fontSize": 38, "fontWeight": "bold", "align": "left", "baseline": "alphabetic"}, "encoding": {"x": {"datum": -560}, "y": {"datum": 133.53}}}
   ]},
  {"hconcat": [
   {"width": 295, "height": 196, "data": {"name": "b"},
    "encoding": {
     "x": {"field": "t", "type": "quantitative", "scale": {"domain": [0, 1553], "nice": false, "zero": false}, "axis": {"values": [0, 500, 1000, 1500], "title": "Time (mins)", "labelFontSize": 13, "labelPadding": 4, "titleFontSize": 15.5, "minExtent": 24, "maxExtent": 24}},
     "y": {"field": "m", "type": "quantitative", "scale": {"domain": [50, 100], "nice": false, "zero": false}, "axis": {"values": [50, 60, 70, 80, 90, 100], "title": ["Diastolic  blood pressure", "(mmHg)"], "labelFontSize": 13, "labelPadding": 2, "titleFontSize": 16, "titleLineHeight": 22, "minExtent": 44, "maxExtent": 44}}
    },
    "layer": [
     {"transform": [{"filter": "datum.g=='f'"}], "mark": {"type": "errorbar", "ticks": {"size": 5}, "color": "#9a9a9a", "thickness": 1.5}, "encoding": {"yError": {"field": "e"}}},
     {"transform": [{"filter": "datum.g=='c'"}], "mark": {"type": "errorbar", "ticks": {"size": 5}, "color": "#f47f7f", "thickness": 1.5}, "encoding": {"yError": {"field": "e"}}},
     {"mark": {"type": "line", "strokeWidth": 2}, "encoding": {"color": {"field": "g", "type": "nominal", "scale": {"domain": ["f", "c"], "range": ["#000000", "#ec1c24"]}, "legend": {"legendX": 172, "legendY": 124.2, "labelFontSize": 16, "labelOffset": 9.7, "rowPadding": 8.3, "labelExpr": "datum.value=='f' ? 'HIF1αflox/flox' : 'HIF1αL1 Cre'"}}}},
     {"data": {"name": "b_fit"}, "mark": {"type": "line", "strokeWidth": 1.5, "clip": true}, "encoding": {"color": {"field": "g", "type": "nominal"}}},
     {"transform": [{"filter": "datum.g=='f' && datum.t==30"}], "mark": {"type": "text", "text": "p<0.001", "fontSize": 20, "align": "left", "baseline": "middle"}, "encoding": {"x": {"datum": 300}, "y": {"datum": 96.5}}},
     {"transform": [{"filter": "datum.g=='f' && datum.t==30"}], "mark": {"type": "text", "text": "b", "fontSize": 38, "fontWeight": "bold", "align": "left", "baseline": "alphabetic"}, "encoding": {"x": {"datum": -579}, "y": {"datum": 94.39}}}
    ]},
   {"width": 306, "height": 196, "data": {"name": "c"},
    "encoding": {
     "x": {"field": "t", "type": "quantitative", "scale": {"domain": [0, 1551], "nice": false, "zero": false}, "axis": {"values": [0, 500, 1000, 1500], "title": "Time (mins)", "labelFontSize": 13, "labelPadding": 4, "titleFontSize": 15.5, "minExtent": 24, "maxExtent": 24}},
     "y": {"field": "m", "type": "quantitative", "scale": {"domain": [250, 700], "nice": false, "zero": false}, "axis": {"values": [300, 400, 500, 600, 700], "title": "Heart Rate (beats/min)", "labelFontSize": 13, "labelPadding": 2, "titleFontSize": 16.5, "minExtent": 48, "maxExtent": 48}}
    },
    "layer": [
     {"transform": [{"filter": "datum.g=='f'"}], "mark": {"type": "errorbar", "ticks": {"size": 5}, "color": "#9a9a9a", "thickness": 1.5, "clip": true}, "encoding": {"yError": {"field": "e"}}},
     {"transform": [{"filter": "datum.g=='c'"}], "mark": {"type": "errorbar", "ticks": {"size": 5}, "color": "#f47f7f", "thickness": 1.5, "clip": true}, "encoding": {"yError": {"field": "e"}}},
     {"mark": {"type": "line", "strokeWidth": 2}, "encoding": {"color": {"field": "g", "type": "nominal", "scale": {"domain": ["f", "c"], "range": ["#000000", "#ec1c24"]}, "legend": {"legendX": 168, "legendY": 139.5, "labelFontSize": 16.5, "labelOffset": 11.3, "rowPadding": 8, "labelExpr": "datum.value=='f' ? 'HIF1αflox/flox' : 'HIF1αL1 Cre'"}}}},
     {"data": {"name": "c_fit"}, "mark": {"type": "line", "strokeWidth": 1.5, "clip": true}, "encoding": {"color": {"field": "g", "type": "nominal"}}},
     {"transform": [{"filter": "datum.g=='f' && datum.t==30"}], "mark": {"type": "text", "text": "p=0.73", "fontSize": 20, "align": "left", "baseline": "middle"}, "encoding": {"x": {"datum": 223}, "y": {"datum": 685}}},
     {"transform": [{"filter": "datum.g=='f' && datum.t==30"}], "mark": {"type": "text", "text": "c", "fontSize": 38, "fontWeight": "bold", "align": "left", "baseline": "alphabetic"}, "encoding": {"x": {"datum": -502}, "y": {"datum": 649.4}}}
    ]}
  ], "spacing": 79, "resolve": {"scale": {"color": "independent"}, "legend": {"color": "independent"}}}
 ], "spacing": 32, "resolve": {"scale": {"color": "independent"}, "legend": {"color": "independent"}}}
], "spacing": 0, "resolve": {"scale": {"color": "independent"}, "legend": {"color": "independent"}}},
{"vconcat": [
{"hconcat": [
 {"width": 3, "height": 1, "data": {"values": []}, "mark": {"type": "point", "opacity": 0}},
 {"hconcat": [
  {"width": 320, "height": 230, "data": {"name": "d"},
   "encoding": {
    "x": {"field": "t", "type": "quantitative", "scale": {"domain": [0, 1548], "nice": false, "zero": false}, "axis": {"values": [0, 500, 1000, 1500], "title": "Time (mins)", "labelFontSize": 15.5, "labelPadding": 4, "titleFontSize": 17.5, "minExtent": 29, "maxExtent": 29}},
    "y": {"field": "m", "type": "quantitative", "scale": {"domain": [27, 35.14], "nice": false, "zero": false}, "axis": {"values": [28, 30, 32, 34], "title": "Temperature (°C)", "labelFontSize": 16, "labelPadding": 3, "titleFontSize": 18, "minExtent": 45, "maxExtent": 45}}
   },
   "layer": [
    {"transform": [{"filter": "datum.g=='f'"}], "mark": {"type": "errorbar", "ticks": {"size": 5}, "color": "#9a9a9a", "thickness": 1.5}, "encoding": {"yError": {"field": "e"}}},
    {"transform": [{"filter": "datum.g=='c'"}], "mark": {"type": "errorbar", "ticks": {"size": 5}, "color": "#f47f7f", "thickness": 1.5}, "encoding": {"yError": {"field": "e"}}},
    {"mark": {"type": "line", "strokeWidth": 2}, "encoding": {"color": {"field": "g", "type": "nominal", "scale": {"domain": ["f", "c"], "range": ["#000000", "#ec1c24"]}, "legend": {"legendX": 178, "legendY": 161.5, "labelFontSize": 17.5, "labelOffset": 12.3, "rowPadding": 12.4, "labelExpr": "datum.value=='f' ? 'HIF1αflox/flox' : 'HIF1αL1 Cre'"}}}},
    {"data": {"name": "d_fit"}, "mark": {"type": "line", "strokeWidth": 1.5, "clip": true}, "encoding": {"color": {"field": "g", "type": "nominal"}}},
    {"transform": [{"filter": "datum.g=='f' && datum.t==30"}], "mark": {"type": "text", "text": "p<0.001", "fontSize": 20.5, "align": "left", "baseline": "middle"}, "encoding": {"x": {"datum": 300}, "y": {"datum": 33.52}}},
    {"transform": [{"filter": "datum.g=='f' && datum.t==30"}], "mark": {"type": "text", "text": "d", "fontSize": 38, "fontWeight": "bold", "align": "left", "baseline": "alphabetic"}, "encoding": {"x": {"datum": -435}, "y": {"datum": 34.47}}}
   ]},
  {"hconcat": [
   {"width": 317, "height": 231, "data": {"name": "e"},
    "encoding": {
     "x": {"field": "t", "type": "quantitative", "scale": {"domain": [0, 1500], "nice": false, "zero": false}, "axis": {"values": [0, 500, 1000, 1500], "title": "Time (mins)", "labelFontSize": 15, "labelPadding": 7, "tickSize": 8, "titleFontSize": 15.5, "minExtent": 34, "maxExtent": 34}},
     "y": {"field": "m", "type": "quantitative", "scale": {"domain": [800, 3500], "nice": false, "zero": false}, "axis": {"values": [1000, 1500, 2000, 2500, 3000, 3500], "title": "VO₂ (ml/kg/hr)", "labelFontSize": 15, "labelPadding": 2, "tickSize": 9, "titleFontSize": 16.5, "minExtent": 62, "maxExtent": 62}}
    },
    "layer": [
     {"transform": [{"filter": "datum.g=='f'"}], "mark": {"type": "errorbar", "ticks": {"size": 5}, "color": "#9a9a9a", "thickness": 1.5}, "encoding": {"yError": {"field": "e"}}},
     {"transform": [{"filter": "datum.g=='c'"}], "mark": {"type": "errorbar", "ticks": {"size": 5}, "color": "#f47f7f", "thickness": 1.5}, "encoding": {"yError": {"field": "e"}}},
     {"mark": {"type": "line", "strokeWidth": 2}, "encoding": {"color": {"field": "g", "type": "nominal", "scale": {"domain": ["f", "c"], "range": ["#000000", "#ec1c24"]}, "legend": {"legendX": 154, "legendY": 138.2, "labelFontSize": 18, "labelOffset": 13.7, "rowPadding": 10.3, "labelExpr": "datum.value=='f' ? 'HIF-1α flox/flox' : 'HIF-1α L1 Cre'"}}}},
     {"data": {"name": "e_fit"}, "mark": {"type": "line", "strokeWidth": 1.5, "color": "#000000"}, "encoding": {"detail": {"field": "g"}}},
     {"transform": [{"filter": "datum.g=='f' && datum.t==30"}], "mark": {"type": "text", "text": "p<0.001", "fontSize": 20, "align": "left", "baseline": "middle"}, "encoding": {"x": {"datum": 128}, "y": {"datum": 3316}}},
     {"transform": [{"filter": "datum.g=='f' && datum.t==30"}], "mark": {"type": "text", "text": "e", "fontSize": 38, "fontWeight": "bold", "align": "left", "baseline": "alphabetic"}, "encoding": {"x": {"datum": -478}, "y": {"datum": 3277.6}}}
    ]},
   {"width": 347, "height": 227, "data": {"name": "f"},
    "encoding": {
     "x": {"field": "t", "type": "quantitative", "scale": {"domain": [0, 1500], "nice": false, "zero": false}, "axis": {"values": [0, 500, 1000, 1500], "title": "Time (mins)", "labelFontSize": 16.5, "labelPadding": 6, "tickSize": 9, "titleFontSize": 16.5, "minExtent": 34, "maxExtent": 34}},
     "y": {"field": "m", "type": "quantitative", "scale": {"domain": [810, 3500], "nice": false, "zero": false}, "axis": {"values": [1000, 1500, 2000, 2500, 3000, 3500], "title": "VCO₂ (ml/kg/hr)", "labelFontSize": 16.5, "labelPadding": 2, "tickSize": 9, "titleFontSize": 17, "minExtent": 64, "maxExtent": 64}}
    },
    "layer": [
     {"transform": [{"filter": "datum.g=='f'"}], "mark": {"type": "errorbar", "ticks": {"size": 5}, "color": "#9a9a9a", "thickness": 1.5}, "encoding": {"yError": {"field": "e"}}},
     {"transform": [{"filter": "datum.g=='c'"}], "mark": {"type": "errorbar", "ticks": {"size": 5}, "color": "#f47f7f", "thickness": 1.5}, "encoding": {"yError": {"field": "e"}}},
     {"mark": {"type": "line", "strokeWidth": 2}, "encoding": {"color": {"field": "g", "type": "nominal", "scale": {"domain": ["f", "c"], "range": ["#000000", "#ec1c24"]}, "legend": {"legendX": 122, "legendY": 165.8, "labelFontSize": 18.5, "labelOffset": 15, "rowPadding": 11.7, "labelExpr": "datum.value=='f' ? 'HIF-1α flox/flox' : 'HIF-1α L1 Cre'"}}}},
     {"data": {"name": "f_fit"}, "mark": {"type": "line", "strokeWidth": 1.5, "color": "#000000"}, "encoding": {"detail": {"field": "g"}}},
     {"transform": [{"filter": "datum.g=='f' && datum.t==30"}], "mark": {"type": "text", "text": "p=0.50", "fontSize": 20, "align": "left", "baseline": "middle"}, "encoding": {"x": {"datum": 193}, "y": {"datum": 3326}}},
     {"transform": [{"filter": "datum.g=='f' && datum.t==30"}], "mark": {"type": "text", "text": "f", "fontSize": 38, "fontWeight": "bold", "align": "left", "baseline": "alphabetic"}, "encoding": {"x": {"datum": -445}, "y": {"datum": 3274.3}}}
    ]}
  ], "spacing": 55, "resolve": {"scale": {"color": "independent"}, "legend": {"color": "independent"}}}
 ], "spacing": 35, "resolve": {"scale": {"color": "independent"}, "legend": {"color": "independent"}}}
], "spacing": 0, "resolve": {"scale": {"color": "independent"}, "legend": {"color": "independent"}}},
{"hconcat": [
 {"width": 3, "height": 1, "data": {"values": []}, "mark": {"type": "point", "opacity": 0}},
 {"hconcat": [
  {"width": 325, "height": 227, "data": {"name": "g"},
   "encoding": {
    "x": {"field": "t", "type": "quantitative", "scale": {"domain": [-7, 427], "nice": false, "zero": false}, "axis": {"values": [0, 80, 160, 240, 320, 400], "title": "Time (mins)", "labelFontSize": 15, "labelPadding": 4, "tickSize": 7, "titleFontSize": 15, "minExtent": 34, "maxExtent": 34}},
    "y": {"field": "m", "type": "quantitative", "scale": {"domain": [70, 150], "nice": false, "zero": false}, "axis": {"values": [80, 100, 120, 140], "title": ["Systolic  blood pressure", "(mmHg)"], "labelFontSize": 15, "labelPadding": 2, "tickSize": 7, "titleFontSize": 17.5, "titleLineHeight": 25, "minExtent": 53, "maxExtent": 53}}
   },
   "layer": [
    {"transform": [{"filter": "datum.g=='f'"}], "mark": {"type": "errorbar", "ticks": {"size": 5}, "color": "#a6a6a6", "thickness": 1.8}, "encoding": {"yError": {"field": "e"}}},
    {"transform": [{"filter": "datum.g=='c'"}], "mark": {"type": "errorbar", "ticks": {"size": 5}, "color": "#f58a8a", "thickness": 1.8}, "encoding": {"yError": {"field": "e"}}},
    {"mark": {"type": "line", "strokeWidth": 2.5, "interpolate": "monotone"}, "encoding": {"color": {"field": "g", "type": "nominal", "scale": {"domain": ["f", "c"], "range": ["#5b5b5b", "#ec1c24"]}, "legend": {"legendX": 195, "legendY": 5.2, "labelFontSize": 15.3, "labelOffset": 13.3, "rowPadding": 10.7, "labelExpr": "datum.value=='f' ? 'HIF1αflox/flox' : 'HIF1αL1 Cre'"}}}},
    {"transform": [{"filter": "datum.g=='f' && datum.t==0"}], "mark": {"type": "text", "text": "p=0.013", "fontSize": 17.5, "align": "left", "baseline": "middle"}, "encoding": {"x": {"datum": 52.7}, "y": {"datum": 84.55}}},
    {"transform": [{"filter": "datum.g=='f' && datum.t==0"}], "mark": {"type": "text", "text": "g", "fontSize": 38, "fontWeight": "bold", "align": "left", "baseline": "alphabetic"}, "encoding": {"x": {"datum": -133.9}, "y": {"datum": 150.36}}}
   ]},
  {"hconcat": [
   {"width": 342, "height": 227, "data": {"name": "h"},
    "encoding": {
     "x": {"field": "t", "type": "quantitative", "scale": {"domain": [-6, 428.5], "nice": false, "zero": false}, "axis": {"values": [0, 80, 160, 240, 320, 400], "title": "Time (mins)", "labelFontSize": 15.5, "labelPadding": 4, "titleFontSize": 17, "minExtent": 33, "maxExtent": 33}},
     "y": {"field": "m", "type": "quantitative", "scale": {"domain": [60, 120], "nice": false, "zero": false}, "axis": {"values": [60, 80, 100, 120], "title": ["Diastolic  Blood pressure", "(mmHg)"], "labelFontSize": 15.5, "labelPadding": 2, "titleFontSize": 17.5, "titleLineHeight": 25, "minExtent": 41, "maxExtent": 41}}
    },
    "layer": [
     {"transform": [{"filter": "datum.g=='f'"}], "mark": {"type": "errorbar", "ticks": {"size": 5}, "color": "#a6a6a6", "thickness": 1.8}, "encoding": {"yError": {"field": "e"}}},
     {"transform": [{"filter": "datum.g=='c'"}], "mark": {"type": "errorbar", "ticks": {"size": 5}, "color": "#f58a8a", "thickness": 1.8}, "encoding": {"yError": {"field": "e"}}},
     {"mark": {"type": "line", "strokeWidth": 2.5, "interpolate": "monotone"}, "encoding": {"color": {"field": "g", "type": "nominal", "scale": {"domain": ["c", "f"], "range": ["#ec1c24", "#5b5b5b"]}, "legend": {"legendX": 198, "legendY": 25.8, "labelFontSize": 16, "labelOffset": 14.6, "rowPadding": 10.3, "labelExpr": "datum.value=='f' ? 'HIF1αflox/flox' : 'HIF1αL1 Cre'"}}}},
     {"transform": [{"filter": "datum.g=='f' && datum.t==0"}], "mark": {"type": "text", "text": "p=0.15", "fontSize": 18.5, "align": "left", "baseline": "middle"}, "encoding": {"x": {"datum": 79}, "y": {"datum": 72.4}}},
     {"transform": [{"filter": "datum.g=='f' && datum.t==0"}], "mark": {"type": "text", "text": "h", "fontSize": 38, "fontWeight": "bold", "align": "left", "baseline": "alphabetic"}, "encoding": {"x": {"datum": -150.8}, "y": {"datum": 117.37}}}
    ]},
   {"width": 318, "height": 223, "data": {"name": "i"},
    "encoding": {
     "x": {"field": "t", "type": "quantitative", "scale": {"domain": [-5, 427.6], "nice": false, "zero": false}, "axis": {"values": [0, 80, 160, 240, 320, 400], "title": "Time (mins)", "labelFontSize": 15, "labelPadding": 3, "titleFontSize": 16, "minExtent": 31, "maxExtent": 31}},
     "y": {"field": "m", "type": "quantitative", "scale": {"domain": [500, 773.3], "nice": false, "zero": false}, "axis": {"values": [500, 550, 600, 650, 700, 750], "domain": false, "title": "Heart Rate (beats/min)", "labelFontSize": 15, "labelPadding": 2, "tickSize": 7, "titleFontSize": 16, "minExtent": 54, "maxExtent": 54}}
    },
    "layer": [
     {"transform": [{"filter": "datum.g=='f' && datum.t==0"}], "mark": {"type": "rule", "color": "#000000", "strokeWidth": 2}, "encoding": {"x": {"datum": -5}, "y": {"datum": 500}, "y2": {"datum": 750}}},
     {"transform": [{"filter": "datum.g=='f'"}], "mark": {"type": "errorbar", "ticks": {"size": 5}, "color": "#a6a6a6", "thickness": 1.8, "clip": true}, "encoding": {"yError": {"field": "e"}}},
     {"transform": [{"filter": "datum.g=='c'"}], "mark": {"type": "errorbar", "ticks": {"size": 5}, "color": "#f58a8a", "thickness": 1.8, "clip": true}, "encoding": {"yError": {"field": "e"}}},
     {"mark": {"type": "line", "strokeWidth": 2.5, "interpolate": "monotone"}, "encoding": {"color": {"field": "g", "type": "nominal", "scale": {"domain": ["f", "c"], "range": ["#5b5b5b", "#ec1c24"]}, "legend": {"legendX": 180, "legendY": -22.2, "labelFontSize": 15, "labelOffset": 13, "rowPadding": 9, "labelExpr": "datum.value=='f' ? 'HIF1α flox/flox' : 'HIF1α L1 Cre'"}}}},
     {"transform": [{"filter": "datum.g=='f' && datum.t==0"}], "mark": {"type": "text", "text": "p=0.25", "fontSize": 18, "align": "left", "baseline": "middle"}, "encoding": {"x": {"datum": 123.8}, "y": {"datum": 542.9}}},
     {"transform": [{"filter": "datum.g=='f' && datum.t==0"}], "mark": {"type": "text", "text": "i", "fontSize": 38, "fontWeight": "bold", "align": "left", "baseline": "alphabetic"}, "encoding": {"x": {"datum": -143.8}, "y": {"datum": 764.75}}}
    ]}
  ], "spacing": 43, "resolve": {"scale": {"color": "independent"}, "legend": {"color": "independent"}}}
 ], "spacing": 31, "resolve": {"scale": {"color": "independent"}, "legend": {"color": "independent"}}}
], "spacing": 0, "resolve": {"scale": {"color": "independent"}, "legend": {"color": "independent"}}}
], "spacing": 54, "resolve": {"scale": {"color": "independent"}, "legend": {"color": "independent"}}}
]
}
